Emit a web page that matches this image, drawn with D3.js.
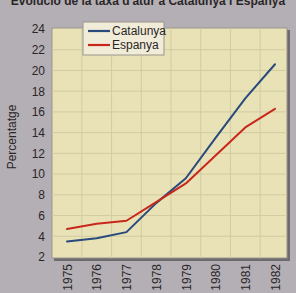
<!DOCTYPE html>
<html><head><meta charset="utf-8">
<script src="https://cdn.jsdelivr.net/npm/d3@7"></script>
<style>
html,body{margin:0;padding:0;background:#b4afb4;}
svg{display:block;}
text{font-family:"Liberation Sans Narrow","Liberation Sans",Arial,sans-serif;}
</style></head>
<body>
<svg id="c" width="296" height="293"></svg>
<script>
const years = [1975, 1976, 1977, 1978, 1979, 1980, 1981, 1982];
const catalunya = [3.5, 3.8, 4.4, 7.2, 9.6, 13.5, 17.3, 20.6];
const espanya = [4.7, 5.2, 5.5, 7.3, 9.1, 11.8, 14.5, 16.3];
const yTicks = [2, 4, 6, 8, 10, 12, 14, 16, 18, 20, 22, 24];
const seriesNames = ["Catalunya", "Espanya"];
const seriesColors = ["#284a7c", "#c8281c"];

const svg = d3.select("#c");
const plot = {x0: 52, x1: 287, y0: 28, y1: 258};
const x = d3.scalePoint().domain(years).range([67, 275]);
const y = d3.scaleLinear().domain([2, 24]).range([257, 29]);

// title (cut off at top, as in the reference)
svg.append("text").attr("x", 148).attr("y", 5).attr("text-anchor", "middle")
  .attr("font-weight", "bold").attr("font-size", 12).attr("fill", "#2a2628")
  .text("Evolució de la taxa d'atur a Catalunya i Espanya");

// shadow
svg.append("rect").attr("x", plot.x0 + 2).attr("y", plot.y0 + 2)
  .attr("width", plot.x1 - plot.x0 + 1).attr("height", plot.y1 - plot.y0 + 1)
  .attr("fill", "#6f6a6e");
svg.append("rect").attr("x", plot.x0).attr("y", plot.y0)
  .attr("width", plot.x1 - plot.x0).attr("height", plot.y1 - plot.y0)
  .attr("fill", "#e8e2b6").attr("stroke", "#9a958c").attr("stroke-width", 1);

// grid
const step = x.step();
const g = svg.append("g");
years.slice(0, -1).forEach(yr => {
  g.append("line").attr("x1", x(yr) + step / 2).attr("x2", x(yr) + step / 2)
    .attr("y1", plot.y0).attr("y2", plot.y1).attr("stroke", "#d2cba2").attr("stroke-width", 1);
});
yTicks.slice(1, -1).forEach(v => {
  g.append("line").attr("x1", plot.x0).attr("x2", plot.x1)
    .attr("y1", y(v)).attr("y2", y(v)).attr("stroke", "#d2cba2").attr("stroke-width", 1);
});

// y axis labels
const ya = svg.append("g").attr("transform", `translate(${plot.x0},0)`)
  .call(d3.axisLeft(y).tickValues(yTicks).tickSize(0).tickPadding(7));
ya.select(".domain").remove();
ya.selectAll("text").attr("font-size", 12).attr("fill", "#2a2628")
  .style("font-family", '"Liberation Sans Narrow","Liberation Sans",Arial,sans-serif');

// x axis labels (rotated)
const xa = svg.append("g").attr("transform", `translate(0,${plot.y1})`)
  .call(d3.axisBottom(x).tickSize(0));
xa.select(".domain").remove();
xa.selectAll("text").attr("font-size", 12).attr("fill", "#2a2628")
  .style("font-family", '"Liberation Sans Narrow","Liberation Sans",Arial,sans-serif')
  .attr("text-anchor", "end").attr("dy", "0.35em")
  .attr("transform", "translate(0,6) rotate(-90)").attr("x", 0).attr("y", 0);

// y title
svg.append("text").attr("transform", "translate(16,137) rotate(-90)")
  .attr("text-anchor", "middle").attr("font-size", 12).attr("fill", "#2a2628")
  .text("Percentatge");

// lines
const line = d3.line().x((d, i) => x(years[i])).y(d => y(d));
[catalunya, espanya].forEach((s, i) => {
  svg.append("path").attr("d", line(s)).attr("fill", "none")
    .attr("stroke", seriesColors[i]).attr("stroke-width", 2)
    .attr("stroke-linejoin", "round").attr("stroke-linecap", "round");
});

// legend
const lg = svg.append("g").attr("transform", "translate(83,22)");
lg.append("rect").attr("width", 81).attr("height", 33)
  .attr("fill", "#f0ecd8").attr("stroke", "#9a958c");
seriesNames.forEach((n, i) => {
  const yy = 9 + i * 14;
  lg.append("line").attr("x1", 5).attr("x2", 27).attr("y1", yy).attr("y2", yy)
    .attr("stroke", seriesColors[i]).attr("stroke-width", 2.2);
  lg.append("text").attr("x", 29).attr("y", yy).attr("dy", "0.35em")
    .attr("font-size", 12).attr("fill", "#2a2628").text(n);
});
</script>
</body></html>
